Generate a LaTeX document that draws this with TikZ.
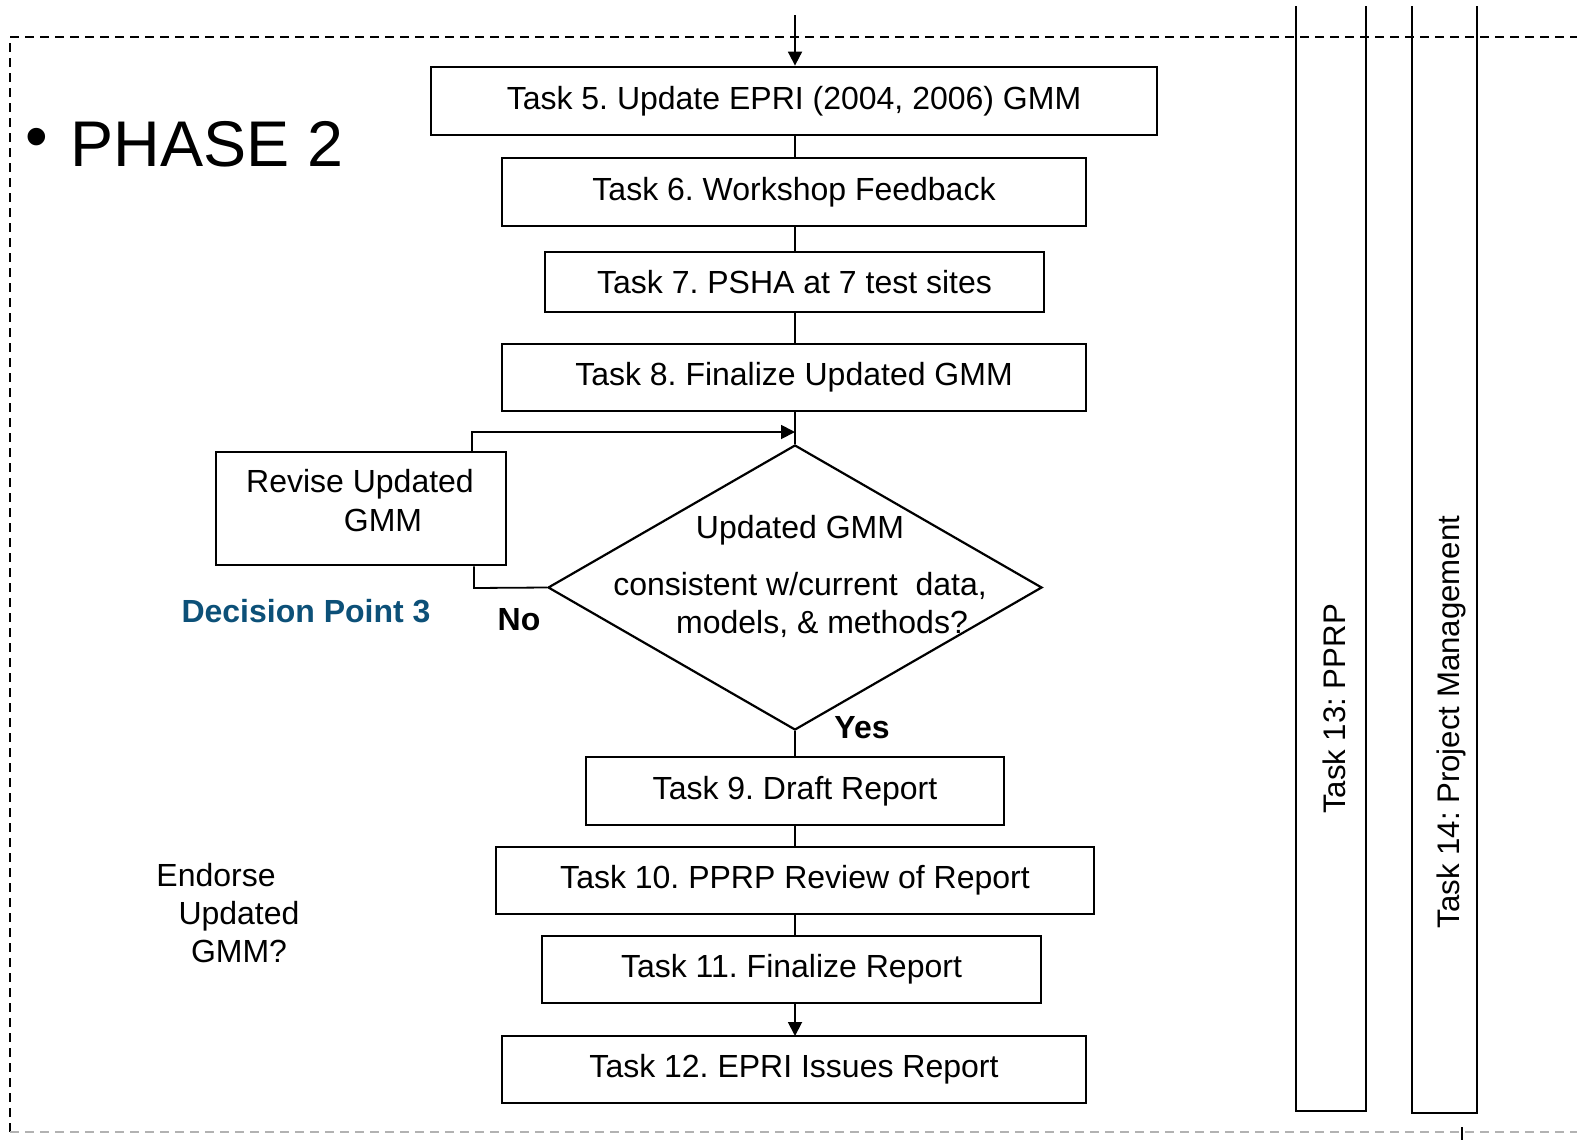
\documentclass[tikz,border=0pt]{standalone}
\usepackage{fontspec}
\setmainfont{Liberation Sans}
\usetikzlibrary{shapes.geometric,arrows.meta}
\definecolor{dpblue}{RGB}{12,80,120}
\frenchspacing
\begin{document}
\begin{tikzpicture}[x=0.5pt,y=-0.5pt,
  task/.style={draw,line width=1.4pt,inner sep=0pt,font=\fontsize{16}{19}\selectfont},
  lbl/.style={inner sep=0pt,anchor=base,font=\fontsize{16}{19}\selectfont},
  conn/.style={line width=0.9pt},
  arr/.style={conn,-{Triangle[length=7pt,width=7pt]}},
  frame/.style={line width=0.7pt,dash pattern=on 4.5pt off 3pt}]
\useasboundingbox (0,0) rectangle (1577,1140);
% dashed frame
\draw[frame] (10,1132) -- (10,37) -- (1577,37);
\draw[frame,gray!60] (10,1132) -- (1577,1132);
% right columns
\draw[line width=1.2pt] (1296,6) -- (1296,1111) -- (1366,1111) -- (1366,6);
\draw[line width=1.2pt] (1412,6) -- (1412,1113) -- (1477,1113) -- (1477,6);
\node[inner sep=0pt,rotate=90,font=\fontsize{15.6}{18}\selectfont] (t13) at (1334,709) {Task 13: PPRP};
\node[inner sep=0pt,rotate=90,font=\fontsize{15.6}{18}\selectfont] (t14) at (1451,722) {Task 14: Project Management};
\coordinate (tick1) at (1462,1127);
\coordinate (tick2) at (1462,1140);
\draw[conn] (tick1) -- (tick2);
% title
\node[inner sep=0pt,font=\fontsize{32.3}{36}\selectfont] (bul) at (37,143) {•};
\node[inner sep=0pt,anchor=base west,font=\fontsize{32.3}{36}\selectfont] (phase) at (70,166) {PHASE 2};
% task boxes
\node[task,minimum width=363pt,minimum height=34pt] (t5) at (794,101) {Task 5. Update EPRI (2004, 2006) GMM};
\node[task,minimum width=292pt,minimum height=34pt] (t6) at (794,192) {Task 6. Workshop Feedback};
\node[task,minimum width=249.5pt,minimum height=30pt] (t7) at (794.5,282) {Task 7. PSHA at 7 test sites};
\node[task,minimum width=292pt,minimum height=33.5pt] (t8) at (794,377.5) {Task 8. Finalize Updated GMM};
\node[draw,diamond,line width=1.1pt,inner sep=0pt,minimum width=247pt,minimum height=142.5pt] (dm) at (795,587.5) {};
\node[lbl] (dm1) at (800,538) {Updated GMM};
\node[lbl] (dm2) at (800,595) {consistent w/current\ \ data,};
\node[lbl] (dm3) at (822,633) {models, \& methods?};
\node[task,minimum width=145pt,minimum height=56.5pt] (rv) at (361,508.5) {};
\node[lbl] (rv1) at (360,492) {Revise Updated};
\node[lbl] (rv2) at (383,531) {GMM};
\node[task,minimum width=209pt,minimum height=34pt] (t9) at (795,791) {Task 9. Draft Report};
\node[task,minimum width=299pt,minimum height=33.5pt] (t10) at (795,880.5) {Task 10. PPRP Review of Report};
\node[task,minimum width=249.5pt,minimum height=33.5pt] (t11) at (791.5,969.5) {Task 11. Finalize Report};
\node[task,minimum width=292pt,minimum height=33.5pt] (t12) at (794,1069.5) {Task 12. EPRI Issues Report};
% labels
\node[lbl,font=\fontsize{16}{19}\selectfont\bfseries,text=dpblue] (dp) at (306,622) {Decision Point 3};
\node[lbl,font=\fontsize{16}{19}\selectfont\bfseries] (no) at (519,630) {No};
\node[lbl,font=\fontsize{16}{19}\selectfont\bfseries] (yes) at (862,738) {Yes};
\node[lbl] (en1) at (216,886) {Endorse};
\node[lbl] (en2) at (239,924) {Updated};
\node[lbl] (en3) at (239,962) {GMM?};
% connectors
\coordinate (top) at (795,15);
\draw[arr] (top) -- (top |- t5.north);
\draw[conn] (795,135) -- (795,158);
\draw[conn] (795,226) -- (795,252);
\draw[conn] (795,312) -- (795,344);
\draw[conn] (795,411) -- (dm.north);
\draw[conn] (dm.south) -- (dm.south |- t9.north);
\draw[conn] (795,825) -- (795,847);
\draw[conn] (795,914) -- (795,936);
\draw[arr] (795,1003) -- (795,1036);
\coordinate (nob) at (474,588);
\draw[conn] (dm.west) -- (nob) -- (nob |- rv.south);
\coordinate (loopa) at (472,432);
\draw[arr] (rv.north -| loopa) -- (loopa) -- (795,432);
\end{tikzpicture}
\end{document}
